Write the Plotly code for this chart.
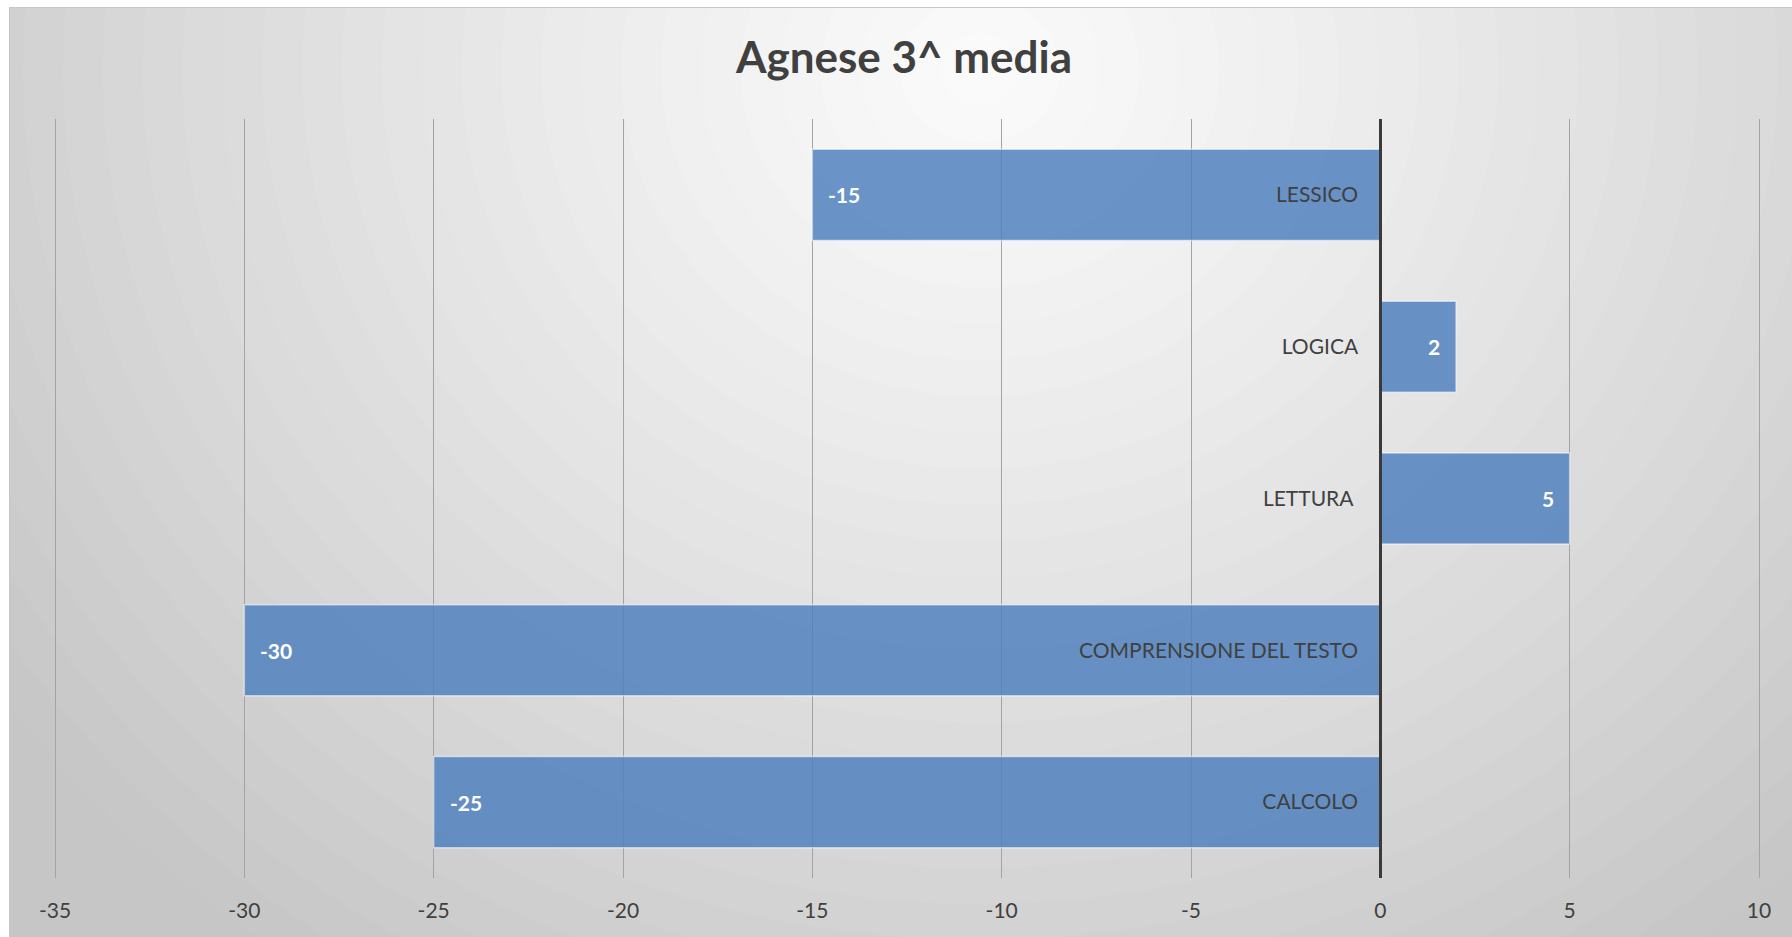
import plotly.graph_objects as go

# ---- data ----
title_text = "Agnese 3^ media"
categories = ["LESSICO", "LOGICA", "LETTURA ", "COMPRENSIONE DEL TESTO", "CALCOLO"]  # top to bottom
values = [-15, 2, 5, -30, -25]
x_tick_vals = [-35, -30, -25, -20, -15, -10, -5, 0, 5, 10]
x_tick_text = ["-35", "-30", "-25", "-20", "-15", "-10", "-5", "0", "5", "10"]
x_range = [-35, 10]

# ---- layout geometry (pixels) ----
W, H = 1792, 937
ML, MR, MT, MB = 53, 31, 119, 59
PW, PH = W - ML - MR, H - MT - MB
PAD = 2 * 45 / (PW - 4)  # 2px of padding at each end so edge gridlines are kept
xr = [x_range[0] - PAD, x_range[1] + PAD]

def px_x(p):
    return (p - ML) / PW

def px_y(p):
    return (H - MB - p) / PH

TEXT = "#404040"
FONT = "Lato"

fig = go.Figure()
fig.add_trace(go.Bar(
    y=categories, x=values, orientation="h", width=0.6,
    marker=dict(color="rgba(79,129,189,0.84)",
                line=dict(color="rgba(255,255,255,0.55)", width=1.5)),
    hoverinfo="skip", showlegend=False,
))

# data labels (inside end of each bar)
annotations = []
for c, v in zip(categories, values):
    annotations.append(dict(
        x=v, y=c, xref="x", yref="y", text=f"<b>{v}</b>", showarrow=False,
        xanchor="left" if v < 0 else "right", xshift=14 if v < 0 else -14,
        font=dict(family=FONT, size=21, color="white"),
    ))

# background radial gradient approximated by concentric ellipses
shapes = []
cx, cy = 980, 70
n = 40
for i in range(n, 0, -1):
    r = 1.45 * i / n
    g = int(round(max(198, 251 - 47 * r ** 1.15)))
    col = f"rgb({g},{g},{g})"
    shapes.append(dict(
        type="circle", layer="below", xref="paper", yref="paper",
        xsizemode="pixel", ysizemode="pixel",
        xanchor=px_x(cx), yanchor=px_y(cy),
        x0=-1100 * r, x1=1100 * r, y0=-1000 * r, y1=1000 * r,
        fillcolor=col, line=dict(width=0),
    ))
# white outside strips and chart border
shapes.append(dict(type="rect", layer="below", xref="paper", yref="paper",
                   x0=px_x(-5), x1=px_x(9), y0=px_y(H + 5), y1=px_y(-5),
                   fillcolor="white", line=dict(width=0)))
shapes.append(dict(type="rect", layer="below", xref="paper", yref="paper",
                   x0=px_x(-5), x1=px_x(W + 5), y0=px_y(7), y1=px_y(-5),
                   fillcolor="white", line=dict(width=0)))
shapes.append(dict(type="rect", layer="below", xref="paper", yref="paper",
                   x0=px_x(9.5), x1=px_x(W + 5), y0=px_y(H + 5), y1=px_y(7.5),
                   fillcolor="rgba(0,0,0,0)", line=dict(color="#c6c6c6", width=1)))

zero_pos = (0 - xr[0]) / (xr[1] - xr[0])

fig.update_layout(
    width=W, height=H,
    margin=dict(l=ML, r=MR, t=MT, b=MB, pad=0),
    paper_bgcolor="white", plot_bgcolor="rgba(0,0,0,0)",
    title=dict(text=f"<b>{title_text}</b>", x=904 / W, xanchor="center",
               y=1 - 58 / H, yanchor="middle",
               font=dict(family=FONT, size=44, color=TEXT)),
    xaxis=dict(range=xr,
               tickvals=x_tick_vals, ticktext=x_tick_text,
               showgrid=True, gridcolor="#a3a3a3", gridwidth=1,
               zeroline=False, showline=False, ticks="",
               ticklabelstandoff=18,
               tickfont=dict(family=FONT, size=21, color=TEXT),
               fixedrange=True),
    yaxis=dict(autorange="reversed", anchor="free", position=zero_pos,
               showgrid=False, zeroline=False, showline=True,
               linecolor="#3a3a3a", linewidth=3, ticks="",
               ticklabelstandoff=17,
               tickfont=dict(family=FONT, size=21, color=TEXT),
               fixedrange=True),
    bargap=0.4,
    shapes=shapes,
    annotations=annotations,
)

fig.write_html("out.html", config={"displayModeBar": False},
               post_script="document.body.style.margin='0';")
